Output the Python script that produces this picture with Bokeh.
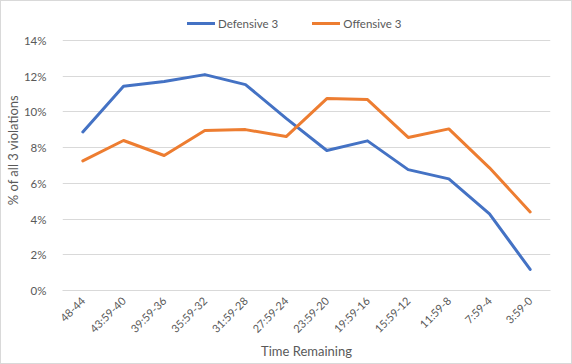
import math
from bokeh.plotting import figure
from bokeh.models import Legend, LegendItem, NumeralTickFormatter, FixedTicker, Range1d, FactorRange
from bokeh.embed import file_html
from bokeh.resources import INLINE

categories = ["48-44", "43:59-40", "39:59-36", "35:59-32", "31:59-28", "27:59-24",
              "23:59-20", "19:59-16", "15:59-12", "11:59-8", "7:59-4", "3:59-0"]
defensive = [0.0888, 0.1144, 0.1170, 0.1209, 0.1153, 0.0964,
             0.0784, 0.0838, 0.0677, 0.0625, 0.0429, 0.0118]
offensive = [0.0726, 0.0840, 0.0756, 0.0896, 0.0901, 0.0862,
             0.1075, 0.1069, 0.0857, 0.0905, 0.0687, 0.0440]
y_ticks = [0, 0.02, 0.04, 0.06, 0.08, 0.10, 0.12, 0.14]

FONT = "Lato"
GREY = "#595959"

# frame spans from y=8 to y=289; 0..14% occupies the lower 250 px,
# the top strip holds the legend
FRAME_TOP, FRAME_BOTTOM, PLOT_TOP = 8, 289, 39
y_end = 0.14 * (FRAME_BOTTOM - FRAME_TOP) / (FRAME_BOTTOM - PLOT_TOP)

p = figure(width=572, height=364, x_range=FactorRange(*categories), y_range=Range1d(0, y_end),
           output_backend="svg", toolbar_location=None,
           min_border_left=60, min_border_right=23, min_border_top=FRAME_TOP,
           min_border_bottom=364 - FRAME_BOTTOM)
p.outline_line_color = None
p.styles = {"border": "1px solid #d9d9d9", "box-sizing": "border-box"}

r1 = p.line(categories, defensive, line_color="#4472C4", line_width=3, line_join="round", line_cap="round")
r2 = p.line(categories, offensive, line_color="#ED7D31", line_width=3, line_join="round", line_cap="round")

p.xgrid.grid_line_color = None
p.ygrid.grid_line_color = "#D9D9D9"
p.ygrid.grid_line_width = 1
p.yaxis.ticker = FixedTicker(ticks=y_ticks)
p.yaxis.formatter = NumeralTickFormatter(format="0%")
p.yaxis.axis_line_color = None
p.yaxis.major_tick_line_color = None
p.yaxis.minor_tick_line_color = None
p.yaxis.major_label_standoff = 10
p.yaxis.axis_label = "% of all 3 violations"
p.yaxis.axis_label_standoff = 0

p.xaxis.axis_line_color = "#D9D9D9"
p.xaxis.major_tick_line_color = None
p.xaxis.minor_tick_line_color = None
p.xaxis.major_label_orientation = math.pi / 4
p.xaxis.major_label_standoff = 2
p.xaxis.axis_label = "Time Remaining"
p.xaxis.axis_label_standoff = 0

for ax in (p.xaxis, p.yaxis):
    ax.major_label_text_font = FONT
    ax.major_label_text_font_size = "11.5px"
    ax.major_label_text_color = GREY
    ax.axis_label_text_font = FONT
    ax.axis_label_text_font_size = "13px"
    ax.axis_label_text_font_style = "normal"
    ax.axis_label_text_color = GREY
p.xaxis.major_label_text_font_size = "11px"

legend = Legend(items=[LegendItem(label="Defensive 3", renderers=[r1]),
                       LegendItem(label="Offensive 3", renderers=[r2])],
                orientation="horizontal", location=(125, 259),
                border_line_color=None, background_fill_alpha=0,
                padding=0, margin=0, spacing=34, label_standoff=3,
                glyph_width=28, glyph_height=16, label_height=16,
                label_text_font=FONT, label_text_font_size="11.5px", label_text_color=GREY)
p.add_layout(legend, "center")

open("out.html", "w").write(file_html(p, INLINE))
